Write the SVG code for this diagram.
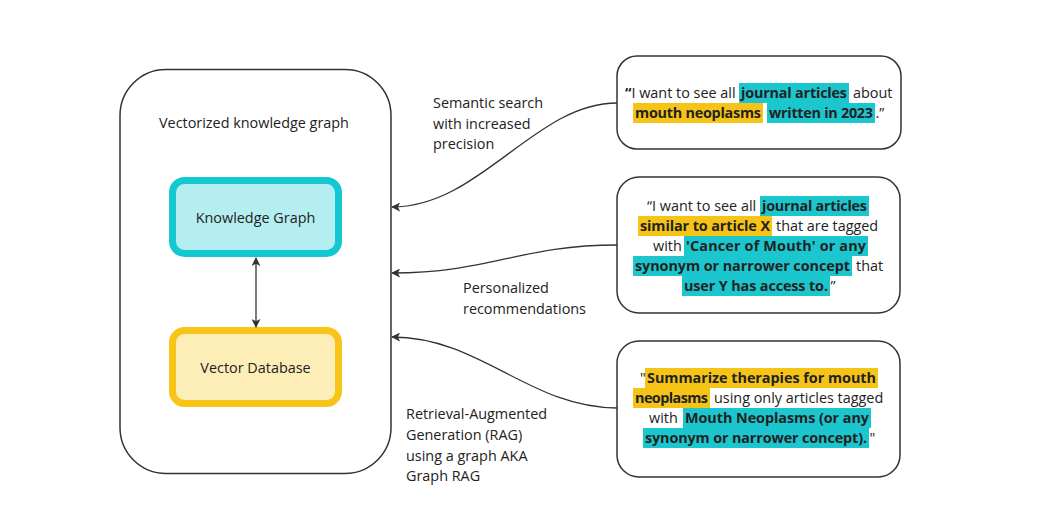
<svg xmlns="http://www.w3.org/2000/svg" width="1064" height="532" viewBox="0 0 1064 532">
<defs>
<style>
text{font-family:"Open Sans","Noto Sans","Liberation Sans",sans-serif;font-size:14.4px;fill:#222;}
.b{font-weight:bold;}
.box{fill:#fff;stroke:#333;stroke-width:1.5;}
.con{fill:none;stroke:#333;stroke-width:1.3;}
.hc{fill:#1bc6cf;}
.hy{fill:#f6c416;}
</style>
<marker id="ah" viewBox="0 0 10 10" refX="9" refY="5" markerWidth="9" markerHeight="9" markerUnits="userSpaceOnUse" orient="auto-start-reverse">
<path d="M0,0 L10,5 L0,10 L2.5,5 Z" fill="#333"/>
</marker>
</defs>
<rect width="1064" height="532" fill="#fff"/>

<g id="container">
<rect class="box" x="120" y="69.5" width="271" height="404" rx="46"/>
<text x="159" y="128">Vectorized knowledge graph</text>
</g>

<g id="knowledge-graph">
<rect x="172.5" y="180.5" width="166" height="73" rx="12" fill="#b5eef0" stroke="#14c8d1" stroke-width="7"/>
<text x="255.5" y="223" text-anchor="middle">Knowledge Graph</text>
</g>

<g id="vector-database">
<rect x="172.5" y="330.5" width="166" height="73" rx="12" fill="#fdeeb8" stroke="#f6c518" stroke-width="7"/>
<text x="255.5" y="373" text-anchor="middle">Vector Database</text>
</g>

<g id="query-semantic">
<rect class="box" x="617" y="56" width="284" height="93" rx="20"/>
<rect class="hc" x="739" y="83" width="110" height="20"/>
<rect class="hy" x="633" y="103" width="130" height="20"/>
<rect class="hc" x="767" y="103" width="108" height="20"/>
<text x="625" y="98"><tspan class="b">“</tspan>I want to see all</text>
<text class="b" x="741" y="98" textLength="106" lengthAdjust="spacing">journal articles</text>
<text x="853" y="98">about</text>
<text class="b" x="635" y="118" textLength="126" lengthAdjust="spacing">mouth neoplasms</text>
<text class="b" x="769" y="118" textLength="104" lengthAdjust="spacing">written in 2023</text>
<text x="875.5" y="118">.”</text>
</g>

<g id="query-personalized">
<rect class="box" x="617" y="177" width="283" height="136" rx="22"/>
<rect class="hc" x="760" y="196" width="109" height="20"/>
<rect class="hy" x="638" y="216" width="134" height="20"/>
<rect class="hc" x="684" y="236" width="184" height="20"/>
<rect class="hc" x="633" y="256" width="219" height="20"/>
<rect class="hc" x="682" y="276" width="148" height="20"/>
<text x="647" y="211">“I want to see all</text>
<text class="b" x="762" y="211" textLength="105" lengthAdjust="spacing">journal articles</text>
<text class="b" x="640" y="231" textLength="130" lengthAdjust="spacing">similar to article X</text>
<text x="776" y="231">that are tagged</text>
<text x="653" y="251">with</text>
<text class="b" x="686" y="251" textLength="180" lengthAdjust="spacing">'Cancer of Mouth' or any</text>
<text class="b" x="635" y="271" textLength="215" lengthAdjust="spacing">synonym or narrower concept</text>
<text x="856" y="271">that</text>
<text class="b" x="684" y="291" textLength="144" lengthAdjust="spacing">user Y has access to.</text>
<text x="830.5" y="291">”</text>
</g>

<g id="query-rag">
<rect class="box" x="617" y="341" width="283" height="136" rx="22"/>
<rect class="hy" x="645" y="368" width="233" height="20"/>
<rect class="hy" x="633" y="388" width="77" height="20"/>
<rect class="hc" x="683" y="408" width="188" height="20"/>
<rect class="hc" x="643" y="428" width="226" height="20"/>
<text x="640" y="383">"</text>
<text class="b" x="647" y="383" textLength="229" lengthAdjust="spacing">Summarize therapies for mouth</text>
<text class="b" x="635" y="403" textLength="73" lengthAdjust="spacing">neoplasms</text>
<text x="714" y="403">using only articles tagged</text>
<text x="649" y="423">with</text>
<text class="b" x="685" y="423" textLength="184" lengthAdjust="spacing">Mouth Neoplasms (or any</text>
<text class="b" x="645" y="443" textLength="222" lengthAdjust="spacing">synonym or narrower concept).</text>
<text x="869.5" y="443">"</text>
</g>

<g id="connectors">
<path class="con" d="M256,258 L256,327" marker-start="url(#ah)" marker-end="url(#ah)"/>
<path class="con" d="M617,103 C535,103 480,207 392,207" marker-end="url(#ah)"/>
<path class="con" d="M617,245 C520,245 490,273 392,273" marker-end="url(#ah)"/>
<path class="con" d="M617,408 C530,408 480,337 392,337" marker-end="url(#ah)"/>
<text x="433" y="108">Semantic search</text>
<text x="433" y="128.5">with increased</text>
<text x="433" y="149">precision</text>
<text x="463" y="293">Personalized</text>
<text x="463" y="313.5">recommendations</text>
<text x="406" y="419">Retrieval-Augmented</text>
<text x="406" y="440">Generation (RAG)</text>
<text x="406" y="461">using a graph AKA</text>
<text x="406" y="481">Graph RAG</text>
</g>
</svg>
